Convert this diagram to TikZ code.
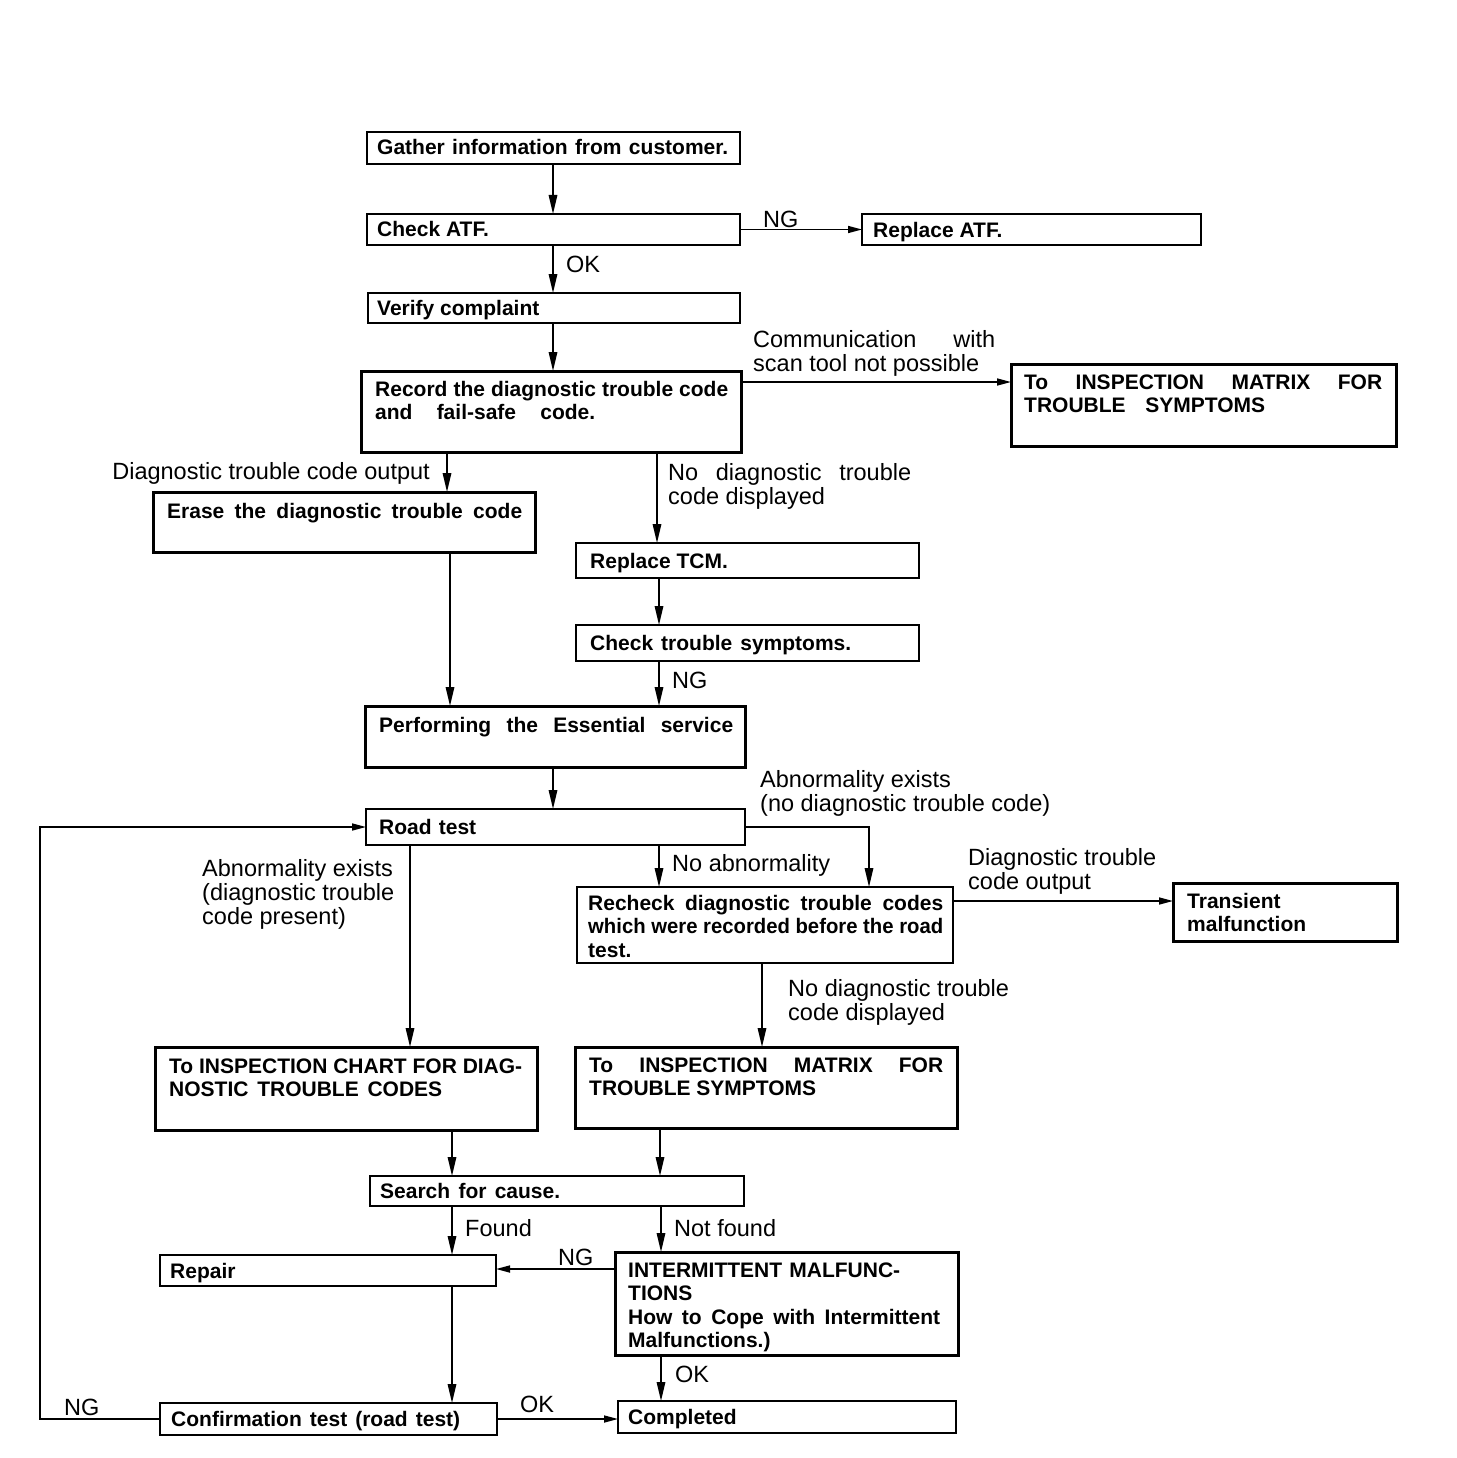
\documentclass[tikz,border=0pt]{standalone}
\usepackage{fontspec}
\usepackage{graphicx}
\setmainfont{Liberation Sans}
\usetikzlibrary{arrows.meta,calc}
\newcommand\JL[2]{\hbox to #1pt{#2}}
\newcommand\NL[1]{\hbox{#1}}
\newcommand\CL[2]{\hbox{\resizebox{#1pt}{\height}{#2}}}
\newcommand\VL[1]{\vtop{#1}}
\begin{document}
\begin{tikzpicture}[x=1pt,y=-1pt,
  bx/.style={draw, line width=2pt, inner sep=0pt, outer sep=0pt, anchor=north west},
  bxt/.style={bx, line width=3pt},
  btext/.style={anchor=base west, inner sep=0pt, font=\fontsize{21}{23.5}\selectfont\bfseries},
  lab/.style={anchor=base west, inner sep=0pt, font=\fontsize{23.5}{24}\selectfont},
  conn/.style={line width=1.6pt, -{Triangle[length=19pt,width=8.5pt]}},
  hconn/.style={line width=1.6pt, -{Triangle[length=14pt,width=7pt]}}]
\useasboundingbox (0,0) rectangle (1456,1458);

% boxes
\node[bx, minimum width=373pt, minimum height=32pt] (gather) at (367,132) {};
\node[bx, minimum width=373pt, minimum height=31pt] (check) at (367,214) {};
\node[bx, minimum width=339pt, minimum height=31pt] (repatf) at (862,214) {};
\node[bx, minimum width=372pt, minimum height=30pt] (verify) at (368,293) {};
\node[bxt, minimum width=380pt, minimum height=81pt] (record) at (361,371) {};
\node[bxt, minimum width=385pt, minimum height=82pt] (matrix1) at (1011,364) {};
\node[bxt, minimum width=382pt, minimum height=60pt] (erase) at (153,492) {};
\node[bx, minimum width=343pt, minimum height=35pt] (tcm) at (576,543) {};
\node[bx, minimum width=343pt, minimum height=36pt] (symp) at (576,625) {};
\node[bxt, minimum width=380pt, minimum height=61pt] (perf) at (365,706) {};
\node[bx, minimum width=379pt, minimum height=36pt] (road) at (366,809) {};
\node[bx, minimum width=376pt, minimum height=76pt] (recheck) at (577,887) {};
\node[bxt, minimum width=224pt, minimum height=58pt] (transient) at (1173,883) {};
\node[bxt, minimum width=382pt, minimum height=83pt] (chart) at (155,1047) {};
\node[bxt, minimum width=382pt, minimum height=81pt] (matrix2) at (575,1047) {};
\node[bx, minimum width=374pt, minimum height=30pt] (search) at (370,1176) {};
\node[bx, minimum width=336pt, minimum height=31pt] (repair) at (160,1255) {};
\node[bxt, minimum width=343pt, minimum height=103pt] (interm) at (615,1252) {};
\node[bx, minimum width=337pt, minimum height=32pt] (confirm) at (160,1403) {};
\node[bx, minimum width=338pt, minimum height=32pt] (completed) at (618,1401) {};

% box texts
\node[btext] (gather-t) at (377,155) {\JL{351}{Gather information from customer.}};
\node[btext] (check-t) at (377,236) {Check ATF.};
\node[btext] (repatf-t) at (873,237) {Replace ATF.};
\node[btext] (verify-t) at (377,315) {Verify complaint};
\node[btext] (record-t) at (375,396) {\VL{\JL{353}{Record the diagnostic trouble code}\JL{220}{and fail-safe code.}}};
\node[btext] (matrix1-t) at (1024,389) {\VL{\JL{358}{To INSPECTION MATRIX FOR}\JL{241}{TROUBLE SYMPTOMS}}};
\node[btext] (erase-t) at (167,518) {\JL{355}{Erase the diagnostic trouble code}};
\node[btext] (tcm-t) at (590,568) {Replace TCM.};
\node[btext] (symp-t) at (590,650) {\JL{261}{Check trouble symptoms.}};
\node[btext] (perf-t) at (379,732) {\JL{354}{Performing the Essential service}};
\node[btext] (road-t) at (379,834) {\JL{97}{Road test}};
\node[btext] (recheck-t) at (588,910) {\VL{\JL{355}{Recheck diagnostic trouble codes}\CL{355}{which were recorded before the road}\NL{test.}}};
\node[btext] (transient-t) at (1187,908) {\VL{\NL{Transient}\NL{malfunction}}};
\node[btext] (chart-t) at (169,1073) {\VL{\CL{353}{To INSPECTION CHART FOR DIAG-}\JL{273}{NOSTIC TROUBLE CODES}}};
\node[btext] (matrix2-t) at (589,1072) {\VL{\JL{354}{To INSPECTION MATRIX FOR}\JL{227}{TROUBLE SYMPTOMS}}};
\node[btext] (search-t) at (380,1198) {\JL{180}{Search for cause.}};
\node[btext] (repair-t) at (170,1278) {Repair};
\node[btext] (interm-t) at (628,1277) {\VL{\JL{272}{INTERMITTENT MALFUNC-}\NL{TIONS}\JL{312}{How to Cope with Intermittent}\NL{Malfunctions.)}}};
\node[btext] (confirm-t) at (171,1426) {\JL{289}{Confirmation test (road test)}};
\node[btext] (completed-t) at (628,1424) {Completed};

% labels
\node[lab] (l-ng1) at (763,227) {NG};
\node[lab] (l-ok1) at (566,272) {OK};
\node[lab] (l-comm) at (753,347) {\VL{\JL{242}{Communication with}\NL{scan tool not possible}}};
\node[lab, anchor=base east] (l-dtco) at (430,479) {Diagnostic trouble code output};
\node[lab] (l-nodtc1) at (668,480) {\VL{\JL{243}{No diagnostic trouble}\NL{code displayed}}};
\node[lab] (l-ng2) at (672,688) {NG};
\node[lab] (l-abn1) at (760,787) {\VL{\NL{Abnormality exists}\NL{(no diagnostic trouble code)}}};
\node[lab] (l-abn2) at (202,876) {\VL{\NL{Abnormality exists}\NL{(diagnostic trouble}\NL{code present)}}};
\node[lab] (l-noabn) at (672,871) {No abnormality};
\node[lab] (l-dtco2) at (968,865) {\VL{\NL{Diagnostic trouble}\NL{code output}}};
\node[lab] (l-nodtc2) at (788,996) {\VL{\NL{No diagnostic trouble}\NL{code displayed}}};
\node[lab] (l-found) at (465,1236) {Found};
\node[lab] (l-notfound) at (674,1236) {Not found};
\node[lab] (l-ng3) at (558,1265) {NG};
\node[lab] (l-ok2) at (675,1382) {OK};
\node[lab] (l-ok3) at (520,1412) {OK};
\node[lab] (l-ng4) at (64,1415) {NG};

% connectors
\draw[conn] ([xshift=186pt]gather.south west) -- ([xshift=186pt]check.north west);
\draw[hconn] (check.east) -- (repatf.west);
\draw[conn] ([xshift=186pt]check.south west) -- ([xshift=185pt]verify.north west);
\draw[conn] ([xshift=185pt]verify.south west) -- ([xshift=192pt]record.north west);
\draw[hconn] ([yshift=-11pt]record.north east) -- ([yshift=-18pt]matrix1.north west);
\draw[conn] ([xshift=86pt]record.south west) -- ([xshift=294pt]erase.north west);
\draw[conn] ([xshift=296pt]record.south west) -- ([xshift=81pt]tcm.north west);
\draw[conn] ([xshift=83pt]tcm.south west) -- ([xshift=83pt]symp.north west);
\draw[conn] ([xshift=83pt]symp.south west) -- ([xshift=294pt]perf.north west);
\draw[conn] ([xshift=297pt]erase.south west) -- ([xshift=85pt]perf.north west);
\draw[conn] ([xshift=188pt]perf.south west) -- ([xshift=187pt]road.north west);
\draw[conn] ([xshift=293pt]road.south west) -- ([xshift=82pt]recheck.north west);
\draw[conn] (road.east) -| ([xshift=292pt]recheck.north west);
\draw[conn] ([xshift=44pt]road.south west) -- ([xshift=255pt]chart.north west);
\draw[hconn] ([yshift=-14pt]recheck.north east) -- ([yshift=-18pt]transient.north west);
\draw[conn] ([xshift=185pt]recheck.south west) -- ([xshift=187pt]matrix2.north west);
\draw[conn] ([xshift=297pt]chart.south west) -- ([xshift=82pt]search.north west);
\draw[conn] ([xshift=85pt]matrix2.south west) -- ([xshift=290pt]search.north west);
\draw[conn] ([xshift=82pt]search.south west) -- ([xshift=292pt]repair.north west);
\draw[conn] ([xshift=291pt]search.south west) -- ([xshift=46pt]interm.north west);
\draw[hconn] ([yshift=-17pt]interm.north west) -- ([yshift=-14pt]repair.north east);
\draw[conn] ([xshift=292pt]repair.south west) -- ([xshift=292pt]confirm.north west);
\draw[conn] ([xshift=46pt]interm.south west) -- ([xshift=43pt]completed.north west);
\draw[hconn] (confirm.east) -- (confirm.east -| completed.west);
\coordinate (loop) at (40,1417);
\draw[hconn] (confirm.west) -- (confirm.west -| loop) |- (road.west);
\end{tikzpicture}
\end{document}
